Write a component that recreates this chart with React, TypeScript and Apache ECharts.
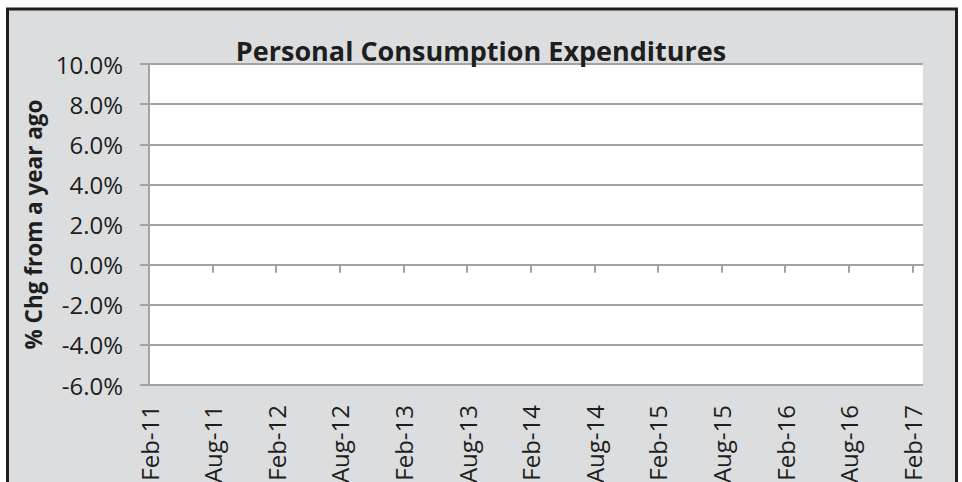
import React, { useEffect, useRef } from "react";
import * as echarts from "echarts";

const TITLE = "Personal Consumption Expenditures";
const Y_AXIS_NAME = "% Chg from a year ago";

const MONTHS: string[] = [
  "Feb-11", "Mar-11", "Apr-11", "May-11", "Jun-11", "Jul-11", "Aug-11", "Sep-11", "Oct-11", "Nov-11", "Dec-11",
  "Jan-12", "Feb-12", "Mar-12", "Apr-12", "May-12", "Jun-12", "Jul-12", "Aug-12", "Sep-12", "Oct-12", "Nov-12", "Dec-12",
  "Jan-13", "Feb-13", "Mar-13", "Apr-13", "May-13", "Jun-13", "Jul-13", "Aug-13", "Sep-13", "Oct-13", "Nov-13", "Dec-13",
  "Jan-14", "Feb-14", "Mar-14", "Apr-14", "May-14", "Jun-14", "Jul-14", "Aug-14", "Sep-14", "Oct-14", "Nov-14", "Dec-14",
  "Jan-15", "Feb-15", "Mar-15", "Apr-15", "May-15", "Jun-15", "Jul-15", "Aug-15", "Sep-15", "Oct-15", "Nov-15", "Dec-15",
  "Jan-16", "Feb-16", "Mar-16", "Apr-16", "May-16", "Jun-16", "Jul-16", "Aug-16", "Sep-16", "Oct-16", "Nov-16", "Dec-16",
  "Jan-17", "Feb-17", "Mar-17",
];

// The reference plot shows no data line; the series is empty.
const PCE_YOY: (number | null)[] = [];

const Y_MIN = -6;
const Y_MAX = 10;
const Y_STEP = 2;
const LABEL_EVERY = 6;

const FONT = "'Open Sans', sans-serif";
const GRID_COLOR = "#A3A3A3";
const TEXT_COLOR = "#1E1E1E";

export default function App() {
  const ref = useRef<HTMLDivElement>(null);

  useEffect(() => {
    if (!ref.current) return;
    const chart = echarts.init(ref.current, null, { renderer: "svg" });
    const showTick = (i: number) => i % LABEL_EVERY === 0;
    chart.setOption({
      animation: false,
      backgroundColor: "#ffffff",
      textStyle: { fontFamily: FONT },
      graphic: [
        {
          type: "rect",
          z: -100,
          silent: true,
          shape: { x: 7.5, y: 9, width: 949, height: 500 },
          style: { fill: "#DCDDDF", stroke: "#1E1E1E", lineWidth: 3 },
        },
      ],
      title: {
        text: TITLE,
        left: "center",
        top: 32,
        textStyle: { fontFamily: FONT, fontWeight: "bold", fontSize: 27, color: TEXT_COLOR },
      },
      grid: {
        left: 149,
        top: 64,
        right: 39,
        bottom: 97,
        show: true,
        backgroundColor: "#ffffff",
        borderWidth: 0,
        containLabel: false,
        outerBoundsMode: "none",
      },
      xAxis: [
        {
          type: "category",
          data: MONTHS,
          boundaryGap: false,
          axisLine: { show: true, onZero: true, lineStyle: { color: GRID_COLOR, width: 2 } },
          axisTick: { show: true, interval: (i: number) => showTick(i), length: 8, lineStyle: { color: GRID_COLOR, width: 2 } },
          axisLabel: { show: false },
          splitLine: { show: false },
        },
        {
          type: "category",
          data: MONTHS,
          boundaryGap: false,
          position: "bottom",
          axisLine: { show: false, onZero: false },
          axisTick: { show: false },
          splitLine: { show: false },
          axisLabel: {
            show: true,
            interval: (i: number) => showTick(i),
            rotate: 90,
            margin: 20,
            fontSize: 24,
            fontFamily: FONT,
            color: TEXT_COLOR,
            align: "right",
            verticalAlign: "middle",
            padding: [22, 0, 0, 0],
            hideOverlap: false,
          },
        },
      ],
      yAxis: {
        type: "value",
        min: Y_MIN,
        max: Y_MAX,
        interval: Y_STEP,
        name: Y_AXIS_NAME,
        nameLocation: "middle",
        nameRotate: 90,
        nameGap: 104,
        nameTextStyle: { fontFamily: FONT, fontWeight: "bold", fontSize: 22.5, color: TEXT_COLOR },
        axisLine: { show: true, lineStyle: { color: GRID_COLOR, width: 2 } },
        axisTick: { show: true, length: 9, lineStyle: { color: GRID_COLOR, width: 2 } },
        axisLabel: {
          fontSize: 24,
          fontFamily: FONT,
          color: TEXT_COLOR,
          margin: 26,
          formatter: (v: number) => v.toFixed(1) + "%",
        },
        splitLine: { show: true, lineStyle: { color: GRID_COLOR, width: 2 } },
      },
      series: [
        {
          name: TITLE,
          type: "line",
          xAxisIndex: 0,
          data: PCE_YOY,
          showSymbol: false,
          lineStyle: { color: "#1F3A68", width: 2 },
        },
      ],
    });
    return () => chart.dispose();
  }, []);

  return <div ref={ref} style={{ position: "fixed", left: 0, top: 0, width: 962, height: 482 }} />;
}
